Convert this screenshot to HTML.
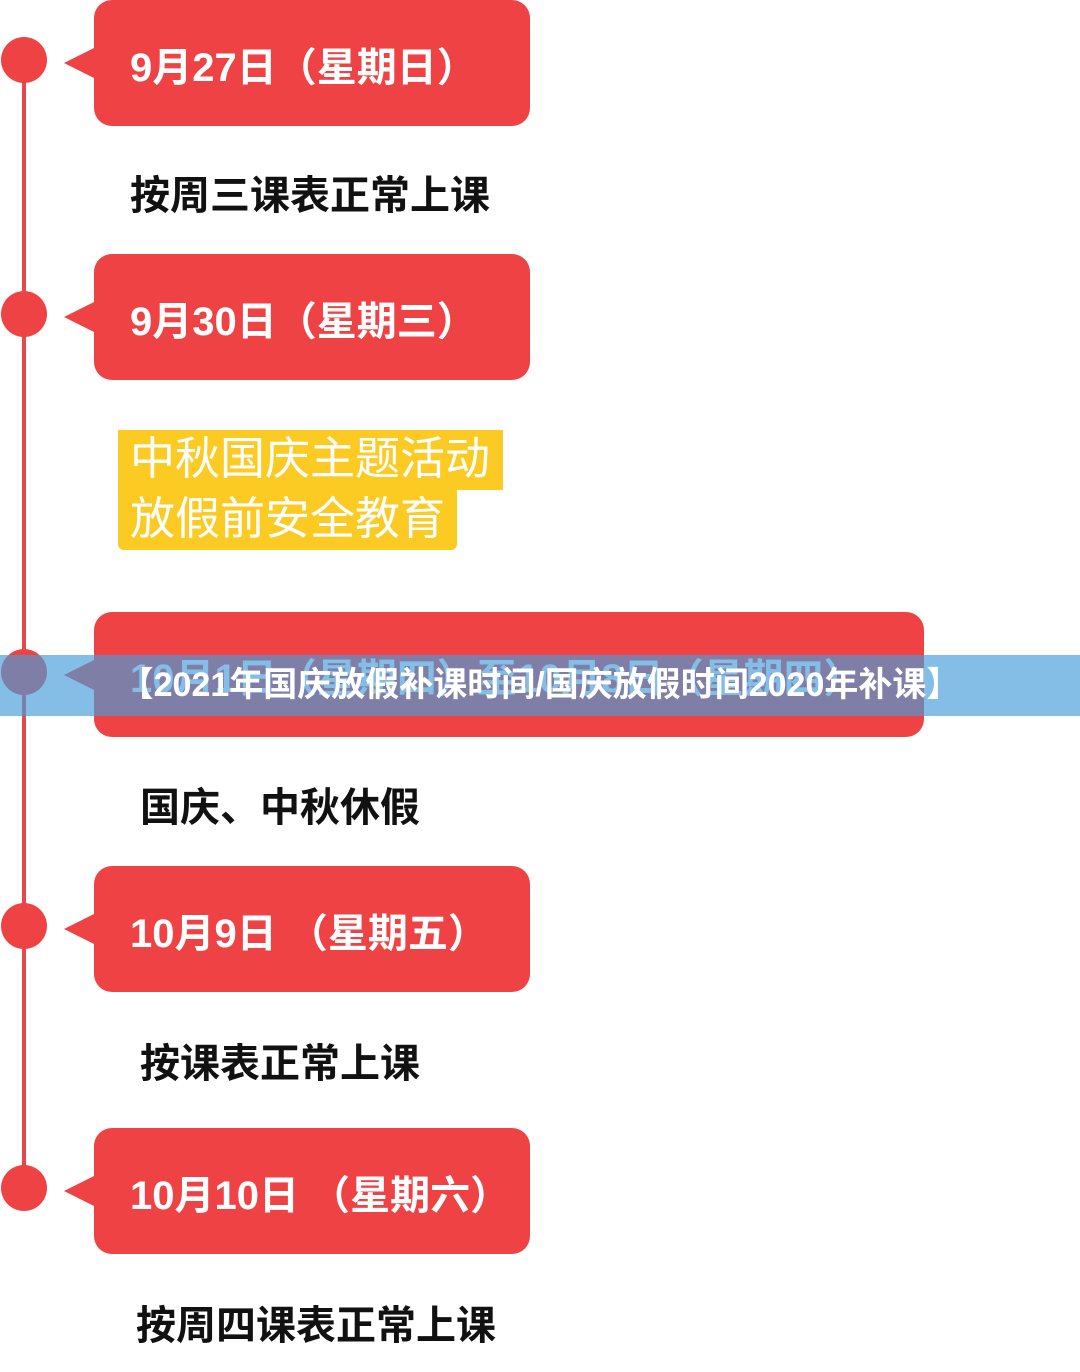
<!DOCTYPE html>
<html><head><meta charset="utf-8"><style>
body{margin:0;width:1080px;height:1372px;background:#fff;position:relative;overflow:hidden;font-family:"Liberation Sans","Noto Sans CJK SC",sans-serif}
.line{position:absolute;left:22px;top:60px;width:4px;height:1130px;background:#e5484a}
.dot{position:absolute;left:1px;width:46px;height:46px;border-radius:50%;background:#ef4244}
.box{position:absolute;left:94px;width:436px;height:126px;background:#ef4244;border-radius:18px}
.box:before{content:"";position:absolute;left:-30px;top:48px;border-right:30px solid #ef4244;border-top:15px solid transparent;border-bottom:15px solid transparent}
.bt{position:absolute;left:36px;top:5px;line-height:126px;color:#fff;font-size:40px;font-weight:bold;white-space:nowrap}
.lab{position:absolute;font-size:40px;font-weight:bold;color:#111;white-space:nowrap}
.yel{position:absolute;background:#fbcb24;color:#fff;font-size:45px;line-height:58px;padding-left:12px;white-space:nowrap}
.banner{position:absolute;left:0;top:655px;width:1080px;height:61px;background:rgba(72,156,216,0.67);color:#fff;font-weight:bold;font-size:34px;line-height:61px;text-align:center;white-space:nowrap}
</style></head><body>
<div class="line"></div>
<div class="dot" style="top:37px"></div>
<div class="dot" style="top:291px"></div>
<div class="dot" style="top:649px"></div>
<div class="dot" style="top:903px"></div>
<div class="dot" style="top:1165px"></div>
<div class="box" style="top:0"><div class="bt">9月27日（星期日）</div></div>
<div class="lab" style="left:130px;top:163px">按周三课表正常上课</div>
<div class="box" style="top:254px"><div class="bt">9月30日（星期三）</div></div>
<div class="yel" style="left:118px;top:430px;width:373px;height:60px">中秋国庆主题活动</div>
<div class="yel" style="left:118px;top:490px;width:327px;height:60px;border-radius:0 0 6px 6px">放假前安全教育</div>
<div class="box" style="top:612px;width:830px;height:125px"><div class="bt" style="line-height:125px">10月1日（星期四）至10月8日（星期四）</div></div>
<div class="lab" style="left:140px;top:775px">国庆、中秋休假</div>
<div class="box" style="top:866px"><div class="bt">10月9日 （星期五）</div></div>
<div class="lab" style="left:140px;top:1031px">按课表正常上课</div>
<div class="box" style="top:1128px"><div class="bt">10月10日 （星期六）</div></div>
<div class="lab" style="left:136px;top:1293px">按周四课表正常上课</div>
<div class="banner">【2021年国庆放假补课时间/国庆放假时间2020年补课】</div>
</body></html>
